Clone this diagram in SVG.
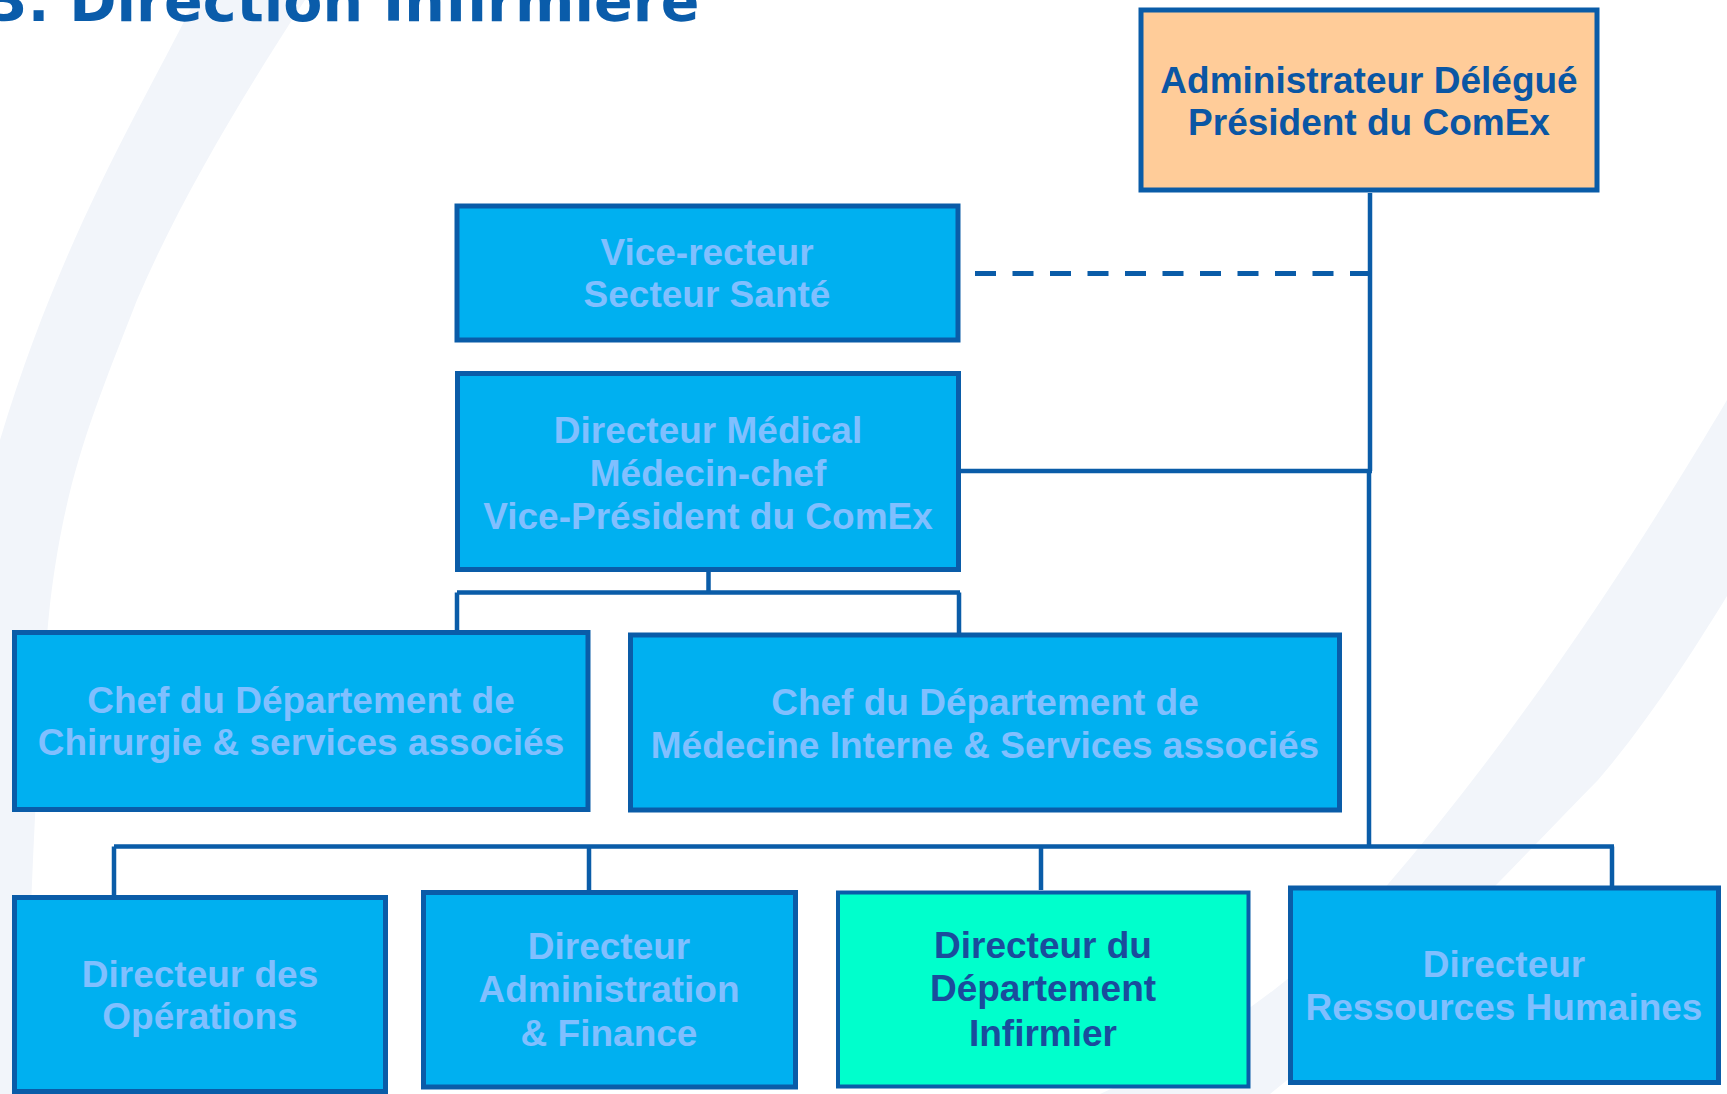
<svg xmlns="http://www.w3.org/2000/svg" width="1727" height="1094" viewBox="0 0 1727 1094">
<style>
.bg{fill:#F2F5FA;stroke:none}
.box{fill:#00B0F0;stroke:#0A5CA8;stroke-width:5}
.boss{fill:#FFCC99;stroke:#0A5CA8;stroke-width:5}
.hl{fill:#00FFCC;stroke:#0A5CA8;stroke-width:4}
.t{font-family:"Liberation Sans",Arial,sans-serif;font-weight:bold;font-size:37px;text-anchor:middle;fill:#80BFFF}
.td{fill:#0A56A4}
.ti{fill:#1A4C9C}
.title{font-family:"DejaVu Sans",Verdana,sans-serif;font-weight:bold;font-size:57px;fill:#0A5CAA}
.c{fill:none;stroke:#0A5CA8;stroke-width:4.5}
.d{fill:none;stroke:#0A5CA8;stroke-width:5;stroke-dasharray:21 16.5}
</style>
<rect width="1727" height="1094" fill="#FFFFFF"/>
<path class="bg" d="M195,0 C140,110 60,240 0,440 L0,1094 L25,1094 C30,900 38,720 50,604 C65,480 90,420 137,300 C180,200 240,100 305,0 Z"/>
<path class="bg" d="M1727,400 C1650,530 1530,720 1383,890 C1300,980 1200,1050 1100,1094 L1270,1094 C1400,990 1500,880 1598,780 C1650,720 1700,640 1727,596 Z"/>
<text class="title" x="-12" y="20.5">3. Direction Infirmière</text>
<g id="connectors">
<path class="c" d="M1370,193 V471 M960,471 H1372 M1369,471 V846.5 M114,846.5 H1614 M114,846.5 V895 M589,846.5 V890 M1041,846.5 V890 M1612,846.5 V886"/>
<path class="c" d="M708.5,572 V592.5 M457,592.5 H960 M457,592.5 V630 M959,592.5 V633"/>
<path class="d" d="M975,273.5 H1368"/>
</g>
<g id="admin-delegue"><rect class="boss" x="1141" y="10" width="456" height="180"/><text class="t td" x="1369" y="93">Administrateur Délégué</text><text class="t td" x="1369" y="135">Président du ComEx</text></g>
<g id="vice-recteur"><rect class="box" x="457" y="206" width="501" height="134"/><text class="t" x="707" y="265">Vice-recteur</text><text class="t" x="707" y="307">Secteur Santé</text></g>
<g id="directeur-medical"><rect class="box" x="457.5" y="373.5" width="501" height="196"/><text class="t" x="708" y="443">Directeur Médical</text><text class="t" x="708" y="486">Médecin-chef</text><text class="t" x="708" y="529">Vice-Président du ComEx</text></g>
<g id="chef-chirurgie"><rect class="box" x="14.5" y="632.5" width="573.5" height="177"/><text class="t" x="301" y="713">Chef du Département de</text><text class="t" x="301" y="755">Chirurgie &amp; services associés</text></g>
<g id="chef-medecine"><rect class="box" x="630.5" y="635" width="709" height="175"/><text class="t" x="985" y="715">Chef du Département de</text><text class="t" x="985" y="758">Médecine Interne &amp; Services associés</text></g>
<g id="dir-operations"><rect class="box" x="14.5" y="897.5" width="371" height="194"/><text class="t" x="200" y="987">Directeur des</text><text class="t" x="200" y="1029">Opérations</text></g>
<g id="dir-admin-finance"><rect class="box" x="423.5" y="892.5" width="372" height="194.5"/><text class="t" x="609" y="959">Directeur</text><text class="t" x="609" y="1002">Administration</text><text class="t" x="609" y="1046">&amp; Finance</text></g>
<g id="dir-infirmier"><rect class="hl" x="838" y="892.5" width="410.5" height="194"/><text class="t ti" x="1043" y="958">Directeur du</text><text class="t ti" x="1043" y="1001">Département</text><text class="t ti" x="1043" y="1046">Infirmier</text></g>
<g id="dir-rh"><rect class="box" x="1290.5" y="888" width="428" height="194.5"/><text class="t" x="1504" y="977">Directeur</text><text class="t" x="1504" y="1020">Ressources Humaines</text></g>
</svg>
